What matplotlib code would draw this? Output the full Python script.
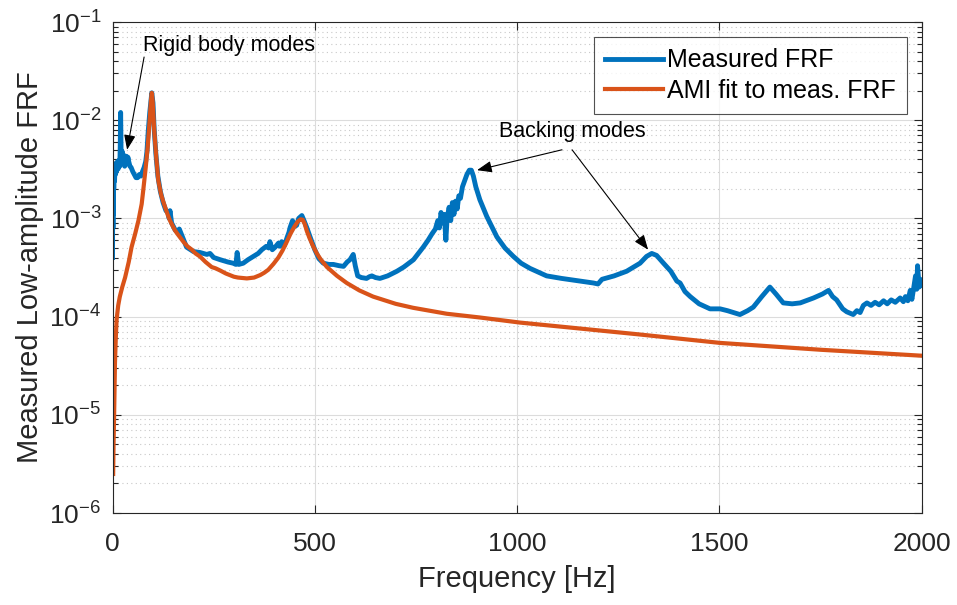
import matplotlib
matplotlib.use('Agg')
import matplotlib.pyplot as plt
from matplotlib.ticker import LogLocator, NullFormatter, MultipleLocator


# measured FRF
meas_freq = [0, 0.5, 1, 1.5, 2, 2.5, 3, 4, 5, 6, 7, 8, 10, 12, 14, 16, 18, 19, 20, 21, 22,
             24, 26, 28, 30, 32, 34, 36, 38, 40, 43, 46, 50, 54, 58, 62, 66, 70, 74, 78,
             82, 85, 88, 92, 97, 100, 103, 107, 112, 118, 125, 132, 137,
             140, 142, 146, 155, 160, 165, 183, 200, 216, 233, 241, 250, 266, 285, 298,
             305, 308, 312, 323, 335, 348, 360, 369, 380, 386, 389, 395, 402, 410, 414,
             418, 425, 432, 436, 439, 445, 450, 455, 460, 468, 472, 480, 490, 500, 510,
             521, 535, 546, 560, 571, 580, 587, 595, 600, 606, 615, 628, 635, 641, 650,
             661, 680, 703, 720, 744, 768, 780, 790, 798, 804, 808, 812, 816, 820, 824,
             827, 832, 836, 840, 844, 848, 852, 856, 860, 865, 870, 876, 882, 887, 892,
             898, 908, 925, 950, 970, 991, 1010, 1032, 1073,
             1110, 1156, 1189, 1200, 1210, 1240, 1271, 1304, 1320, 1333, 1345, 1362,
             1380, 1395, 1403, 1415, 1428, 1450, 1477, 1502, 1520, 1551, 1570, 1584,
             1605, 1625, 1640, 1658, 1680, 1700, 1733, 1755, 1770, 1780, 1790, 1805,
             1815, 1831, 1840, 1848, 1856, 1865, 1875, 1885, 1895, 1906, 1915, 1925,
             1935, 1947, 1955, 1960, 1966, 1972, 1976, 1980, 1985, 1988, 1990, 1994,
             1997, 2000]
meas_frf = [4.0e-4, 3.0e-3, 8e-4, 3.2e-3, 1.1e-3, 3.5e-3, 2.0e-3, 3.6e-3, 2.4e-3, 3.3e-3,
            2.8e-3, 3.6e-3, 3.0e-3, 3.8e-3, 3.2e-3, 3.9e-3, 3.4e-3, 5.5e-3, 1.2e-2, 5.2e-3,
            3.6e-3, 4.8e-3, 3.7e-3, 4.4e-3, 3.4e-3, 3.9e-3, 4.3e-3, 3.6e-3, 4.2e-3, 3.8e-3,
            3.4e-3, 3.3e-3, 3.0e-3, 2.8e-3, 2.6e-3, 2.6e-3, 2.8e-3, 2.7e-3, 3.0e-3, 3.3e-3,
            3.8e-3, 4.8e-3, 7.5e-3, 1.2e-2, 1.9e-2, 1.5e-2, 8e-3, 4.6e-3, 2.7e-3, 1.9e-3,
            1.45e-3, 1.2e-3, 1.15e-3,
            1.0e-3, 1.2e-3, 9e-4, 7.6e-4, 7.3e-4, 7.8e-4, 5.1e-4, 4.6e-4, 4.5e-4, 4.3e-4,
            4.4e-4, 4.0e-4, 3.8e-4, 3.6e-4, 3.5e-4,
            3.4e-4, 4.5e-4, 3.4e-4, 3.5e-4, 3.8e-4, 4.1e-4, 4.4e-4, 4.8e-4, 5.2e-4, 5.0e-4,
            5.8e-4, 4.8e-4, 5.1e-4, 5.6e-4, 5.2e-4,
            5.8e-4, 5.3e-4, 6.5e-4, 7.2e-4, 8.1e-4, 9.5e-4, 8.3e-4, 8.5e-4, 1.0e-3, 1.07e-3,
            9.8e-4, 8.1e-4, 6.2e-4, 4.8e-4, 3.9e-4,
            3.5e-4, 3.4e-4, 3.4e-4, 3.3e-4, 3.25e-4, 3.6e-4, 3.8e-4, 4.3e-4, 3.3e-4, 2.6e-4,
            2.5e-4, 2.45e-4, 2.55e-4, 2.6e-4, 2.5e-4,
            2.45e-4, 2.6e-4, 2.9e-4, 3.2e-4, 3.8e-4, 5.1e-4, 6.0e-4, 7.0e-4, 7.8e-4, 9.5e-4,
            8e-4, 1.15e-3, 9e-4, 1.1e-3, 6e-4,
            1.0e-3, 1.3e-3, 9.5e-4, 1.45e-3, 1.1e-3, 1.5e-3, 1.25e-3, 1.7e-3, 1.6e-3, 2.1e-3,
            2.4e-3, 2.8e-3, 3.1e-3, 3.1e-3, 2.7e-3,
            2.1e-3, 1.55e-3, 1.05e-3, 6.5e-4, 5.0e-4, 4.1e-4, 3.5e-4, 3.1e-4, 2.6e-4,
            2.45e-4, 2.3e-4, 2.2e-4, 2.15e-4, 2.4e-4, 2.6e-4, 2.9e-4, 3.5e-4, 4.1e-4,
            4.4e-4, 4.2e-4, 3.5e-4,
            2.9e-4, 2.3e-4, 2.2e-4, 1.8e-4, 1.6e-4, 1.35e-4, 1.2e-4, 1.2e-4, 1.15e-4,
            1.05e-4, 1.15e-4, 1.25e-4,
            1.6e-4, 2.0e-4, 1.7e-4, 1.38e-4, 1.35e-4, 1.38e-4, 1.55e-4, 1.7e-4, 1.85e-4,
            1.6e-4, 1.48e-4, 1.2e-4,
            1.12e-4, 1.05e-4, 1.15e-4, 1.1e-4, 1.3e-4, 1.38e-4, 1.3e-4, 1.4e-4, 1.32e-4,
            1.45e-4, 1.35e-4, 1.48e-4,
            1.4e-4, 1.55e-4, 1.42e-4, 1.6e-4, 1.45e-4, 1.85e-4, 1.5e-4, 1.9e-4, 2.6e-4,
            1.9e-4, 3.3e-4, 2.0e-4,
            2.4e-4, 2.1e-4]

# AMI fit
fit_freq = [1.5, 2.5, 4, 6, 8, 10, 14, 18, 24, 31, 40, 47, 56, 64, 72, 76, 82, 87, 91,
            95, 97, 99, 103, 108, 113, 120, 125, 130, 136, 142, 148, 154, 160, 175, 185,
            196, 205, 216, 230, 245, 255, 266, 280, 300, 310, 332, 350, 365, 375, 385,
            398, 410, 420, 430, 440, 450, 458, 465, 470, 475, 480, 487, 495, 505, 515,
            530, 555, 579, 610, 644, 700, 743, 826, 908, 1007, 1123, 1300, 1502, 1750,
            2000]
fit_frf = [2.5e-6, 5e-6, 1.05e-5, 3.4e-5, 6e-5, 9.3e-5, 1.3e-4, 1.6e-4, 2.0e-4, 2.5e-4,
           3.6e-4, 5.1e-4, 7e-4, 9.5e-4, 1.4e-3, 1.95e-3, 3.3e-3, 5.4e-3, 9e-3,
           1.6e-2, 1.9e-2, 1.6e-2, 8e-3, 4.2e-3, 2.45e-3, 1.75e-3, 1.5e-3, 1.3e-3, 1.1e-3,
           9.5e-4, 8.5e-4, 7.6e-4, 7.0e-4, 5.8e-4, 5.2e-4,
           4.8e-4, 4.4e-4, 4.1e-4, 3.6e-4, 3.2e-4, 3.1e-4, 2.95e-4, 2.75e-4, 2.55e-4,
           2.5e-4, 2.45e-4, 2.5e-4, 2.65e-4, 2.8e-4, 3.0e-4,
           3.45e-4, 4.0e-4, 4.7e-4, 5.7e-4, 7.0e-4, 8.3e-4, 9.3e-4, 9.8e-4, 9.7e-4,
           8.8e-4, 7.5e-4, 6.3e-4, 5.3e-4, 4.4e-4, 3.8e-4,
           3.2e-4, 2.6e-4, 2.2e-4, 1.85e-4, 1.6e-4, 1.35e-4, 1.23e-4, 1.07e-4, 9.8e-5,
           8.7e-5, 7.8e-5, 6.6e-5, 5.4e-5, 4.6e-5, 4.0e-5]

AX_COLOR = '#262626'

plt.rcParams['font.family'] = ['Liberation Sans', 'DejaVu Sans']
plt.rcParams['mathtext.fontset'] = 'custom'
plt.rcParams['mathtext.rm'] = 'Liberation Sans'
plt.rcParams['mathtext.it'] = 'Liberation Sans:italic'

fig = plt.figure(figsize=(9.57, 6.05), dpi=100)
ax = fig.add_axes([0.1176, 0.152, 0.8454, 0.8116])

ax.plot(meas_freq, meas_frf, color='#0072BD', lw=3.5, label='Measured FRF',
        solid_joinstyle='round')
ax.plot(fit_freq, fit_frf, color='#D95319', lw=3, label='AMI fit to meas. FRF')

ax.set_yscale('log')
ax.set_xlim(0, 2000)
ax.set_ylim(1e-6, 1e-1)
ax.xaxis.set_major_locator(MultipleLocator(500))
ax.yaxis.set_major_locator(LogLocator(base=10, numticks=10))
ax.yaxis.set_minor_locator(LogLocator(base=10, subs=range(2, 10), numticks=20))
ax.yaxis.set_minor_formatter(NullFormatter())

ax.grid(True, which='major', color='#dcdcdc', lw=0.8)
ax.grid(True, which='minor', axis='y', color='#c8c8c8', lw=0.8, ls=(0, (1, 3)))
ax.set_axisbelow(True)

ax.tick_params(which='both', direction='in', top=True, right=True, colors=AX_COLOR,
               labelsize=19)
ax.tick_params(which='major', length=6, width=0.8)
ax.tick_params(which='minor', length=3.5, width=0.8)
ax.tick_params(axis='x', pad=14)
ax.tick_params(axis='y', pad=8)
for s in ax.spines.values():
    s.set_color(AX_COLOR)
    s.set_linewidth(0.8)

ax.set_xlabel('Frequency [Hz]', fontsize=21, color=AX_COLOR, labelpad=6)
ax.set_ylabel('Measured Low-amplitude FRF', fontsize=21, color=AX_COLOR, labelpad=4)

leg = ax.legend(loc='upper right', fontsize=18, frameon=True, fancybox=False,
                edgecolor=AX_COLOR, handlelength=2.3, borderpad=0.45,
                labelspacing=0.25, handletextpad=0.15, borderaxespad=0.6)
leg.get_frame().set_linewidth(0.8)

arrow = dict(arrowstyle='-|>,head_length=0.9,head_width=0.35', color='black', lw=0.8,
             shrinkA=0, shrinkB=0)
ax.text(76, 0.057, 'Rigid body modes', fontsize=15.5, ha='left', va='center')
ax.annotate('', xy=(36, 5.0e-3), xytext=(78, 0.044), arrowprops=arrow)
ax.text(1136, 7.6e-3, 'Backing modes', fontsize=15.5, ha='center', va='center')
ax.annotate('', xy=(901, 3.1e-3), xytext=(1111, 5.0e-3), arrowprops=arrow)
ax.annotate('', xy=(1324, 4.8e-4), xytext=(1136, 5.0e-3), arrowprops=arrow)

fig.savefig('out.png', dpi=100)
